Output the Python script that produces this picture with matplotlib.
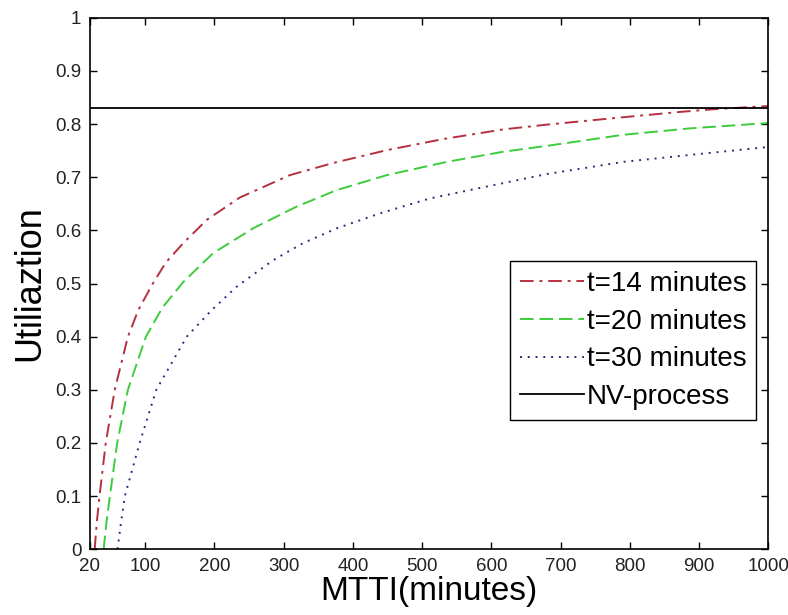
import numpy as np
from matplotlib import pyplot as plt

plt.rcParams['font.family'] = ['Liberation Sans', 'DejaVu Sans']

# values
x_t14 = [27, 30, 34, 43, 56, 75, 90, 111, 130, 155, 189, 237, 309, 372, 449, 531, 617, 680, 791, 873, 921, 1000]
u_t14 = [0, 0.05, 0.1, 0.2, 0.3, 0.4, 0.45, 0.5, 0.54, 0.576, 0.62, 0.662, 0.704, 0.727, 0.751, 0.772, 0.79, 0.799, 0.813, 0.823, 0.828, 0.834]

x_t20 = [40, 44, 49, 59.5, 75, 101, 125, 155, 198, 256, 319, 377, 449, 536, 617, 680, 791, 887, 1000]
u_t20 = [0, 0.05, 0.1, 0.2, 0.3, 0.4, 0.455, 0.503, 0.557, 0.604, 0.645, 0.676, 0.704, 0.729, 0.748, 0.759, 0.78, 0.792, 0.802]

x_t30 = [60, 65, 70.6, 92, 116, 160, 196, 232, 285, 328, 377, 439, 511, 584, 680, 791, 887, 1000]
u_t30 = [0, 0.05, 0.1, 0.2, 0.3, 0.4, 0.45, 0.494, 0.544, 0.576, 0.604, 0.632, 0.66, 0.68, 0.706, 0.729, 0.742, 0.757]

nv_level = 0.83
x_range = [20, 1000]

xticks = [20, 100, 200, 300, 400, 500, 600, 700, 800, 900, 1000]
yticks = [0, 0.1, 0.2, 0.3, 0.4, 0.5, 0.6, 0.7, 0.8, 0.9, 1]
ytick_labels = ['0', '0.1', '0.2', '0.3', '0.4', '0.5', '0.6', '0.7', '0.8', '0.9', '1']

fig = plt.figure(figsize=(7.88, 6.15), dpi=100)
ax = fig.add_axes([0.114, 0.107, 0.861, 0.864])

ax.plot(x_t14, u_t14, color='#b5303f', linestyle=(0, (7, 3, 1.5, 3)), lw=1.4, label='t=14 minutes')
ax.plot(x_t20, u_t20, color='#3ccc3c', linestyle=(0, (7, 3)), lw=1.4, label='t=20 minutes')
ax.plot(x_t30, u_t30, color='#2a2a7a', linestyle=(0, (1, 3)), lw=1.4, label='t=30 minutes')
ax.plot(x_range, [nv_level, nv_level], color='black', lw=1.3, label='NV-process')

ax.set_xlim(20, 1000)
ax.set_ylim(0, 1)
ax.set_xticks(xticks)
ax.set_yticks(yticks)
ax.set_yticklabels(ytick_labels)
ax.tick_params(direction='in', length=5, width=1, top=True, right=True,
               labelsize=13.5, labelcolor='#222222', pad=6)
for s in ax.spines.values():
    s.set_linewidth(1.2)

ax.set_xlabel('MTTI(minutes)', fontsize=24, labelpad=1)
ax.set_ylabel('Utiliaztion', fontsize=26, labelpad=6)

leg = ax.legend(loc='upper right', bbox_to_anchor=(0.982, 0.542), borderaxespad=0,
                fontsize=20, handlelength=2.3, handletextpad=0.1, labelspacing=0.42,
                borderpad=0.35, fancybox=False, framealpha=1, edgecolor='black')
leg.get_frame().set_linewidth(1.0)

fig.savefig('out.png', dpi=100)
